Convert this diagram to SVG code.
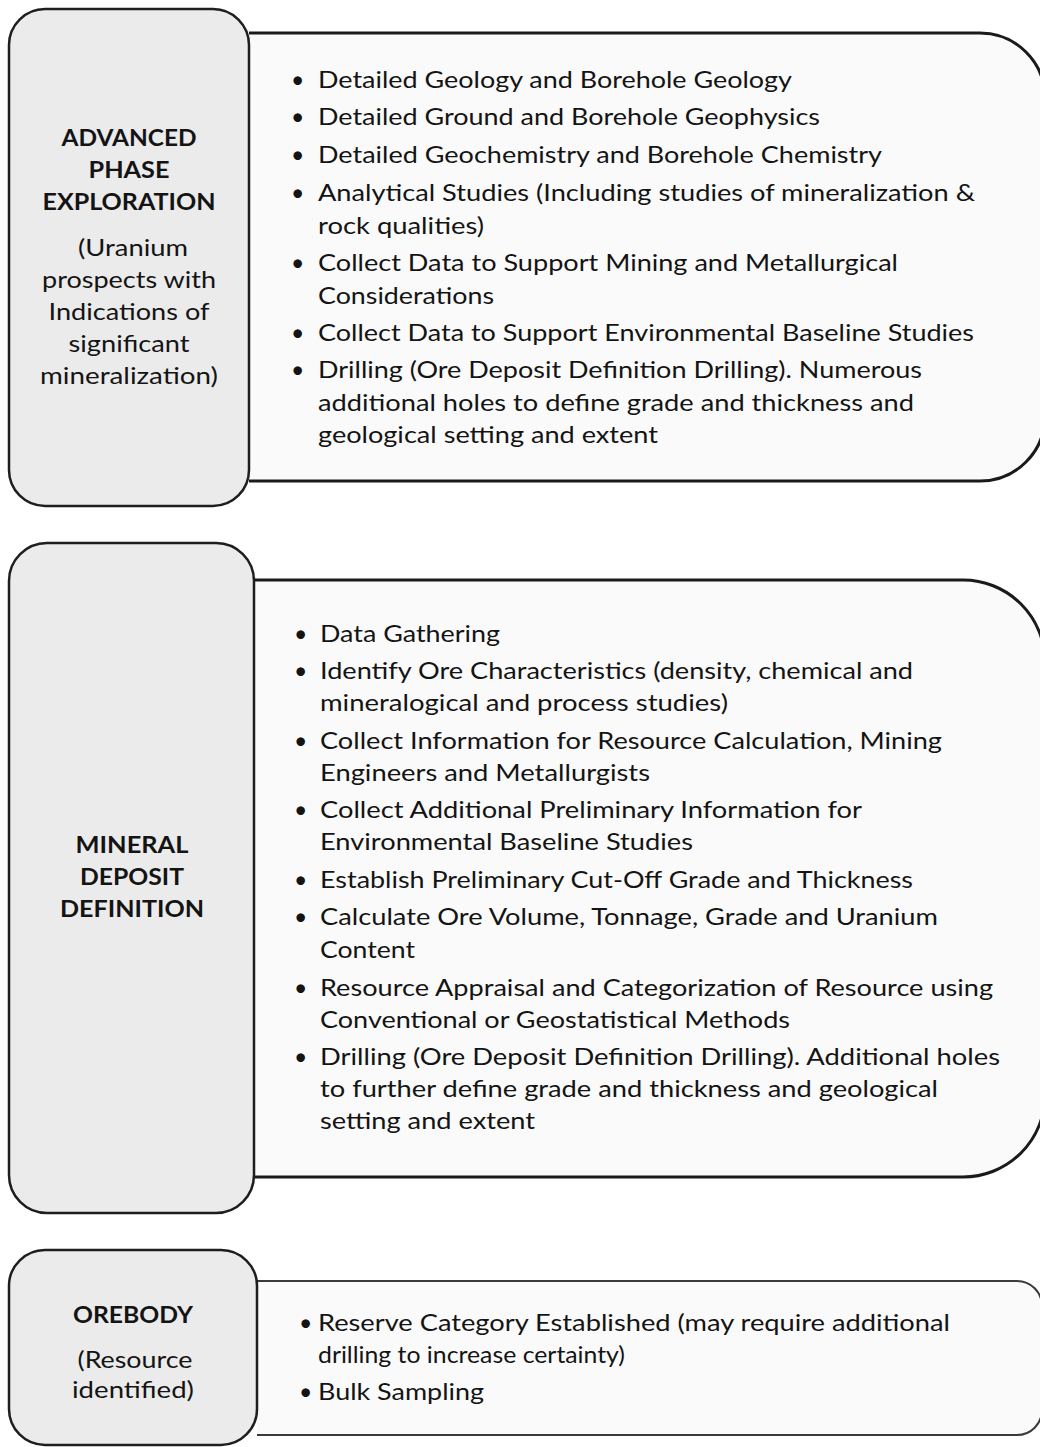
<svg xmlns="http://www.w3.org/2000/svg" width="1040" height="1447" viewBox="0 0 1040 1447">
<style>
.lbox{fill:#ebebeb;stroke:#1e1e1e;stroke-width:2.5}
.rbox{fill:#fafafa;stroke:#1a1a1a;stroke-width:3}
.rbox3{fill:#fafafa;stroke:#3a3a3a;stroke-width:2}
text{font-family:Lato,"Open Sans","Liberation Sans",sans-serif;font-size:23px;fill:#141414}
.h{font-weight:bold;text-anchor:middle}
.c{text-anchor:middle;font-size:24px}
</style>
<rect width="1040" height="1447" fill="#ffffff"/>
<g id="connectors"></g>

<g id="advanced-details">
<path class="rbox" d="M249,33 H980 A65,65 0 0 1 1045,98 V416 A65,65 0 0 1 980,481 H249"/>
<g>
<text x="291" y="88">•</text><text x="318" y="88" textLength="474" lengthAdjust="spacingAndGlyphs">Detailed Geology and Borehole Geology</text>
<text x="291" y="125">•</text><text x="318" y="125" textLength="502" lengthAdjust="spacingAndGlyphs">Detailed Ground and Borehole Geophysics</text>
<text x="291" y="163">•</text><text x="318" y="163" textLength="564" lengthAdjust="spacingAndGlyphs">Detailed Geochemistry and Borehole Chemistry</text>
<text x="291" y="201">•</text><text x="318" y="201" textLength="657" lengthAdjust="spacingAndGlyphs">Analytical Studies (Including studies of mineralization &amp;</text>
<text x="318" y="234" textLength="166" lengthAdjust="spacingAndGlyphs">rock qualities)</text>
<text x="291" y="271">•</text><text x="318" y="271" textLength="580" lengthAdjust="spacingAndGlyphs">Collect Data to Support Mining and Metallurgical</text>
<text x="318" y="304" textLength="176" lengthAdjust="spacingAndGlyphs">Considerations</text>
<text x="291" y="341">•</text><text x="318" y="341" textLength="656" lengthAdjust="spacingAndGlyphs">Collect Data to Support Environmental Baseline Studies</text>
<text x="291" y="378">•</text><text x="318" y="378" textLength="604" lengthAdjust="spacingAndGlyphs">Drilling (Ore Deposit Definition Drilling). Numerous</text>
<text x="318" y="411" textLength="596" lengthAdjust="spacingAndGlyphs">additional holes to define grade and thickness and</text>
<text x="318" y="443" textLength="340" lengthAdjust="spacingAndGlyphs">geological setting and extent</text>
</g>
</g>
<g id="advanced-label">
<rect class="lbox" x="9" y="9" width="240" height="497" rx="36"/>
<text class="h" x="129" y="146" textLength="135" lengthAdjust="spacingAndGlyphs">ADVANCED</text>
<text class="h" x="129" y="178" textLength="81" lengthAdjust="spacingAndGlyphs">PHASE</text>
<text class="h" x="129" y="210" textLength="173" lengthAdjust="spacingAndGlyphs">EXPLORATION</text>
<text class="c" x="133" y="256" textLength="110" lengthAdjust="spacingAndGlyphs">(Uranium</text>
<text class="c" x="129" y="288" textLength="174" lengthAdjust="spacingAndGlyphs">prospects with</text>
<text class="c" x="129" y="320" textLength="161" lengthAdjust="spacingAndGlyphs">Indications of</text>
<text class="c" x="129" y="352" textLength="121" lengthAdjust="spacingAndGlyphs">significant</text>
<text class="c" x="129" y="384" textLength="178" lengthAdjust="spacingAndGlyphs">mineralization)</text>
</g>

<g id="definition-details">
<path class="rbox" d="M254,580 H963 A82,82 0 0 1 1045,662 V1095 A82,82 0 0 1 963,1177 H254"/>
<g>
<text x="294" y="642">•</text><text x="320" y="642" textLength="180" lengthAdjust="spacingAndGlyphs">Data Gathering</text>
<text x="294" y="679">•</text><text x="320" y="679" textLength="593" lengthAdjust="spacingAndGlyphs">Identify Ore Characteristics (density, chemical and</text>
<text x="320" y="711" textLength="408" lengthAdjust="spacingAndGlyphs">mineralogical and process studies)</text>
<text x="294" y="749">•</text><text x="320" y="749" textLength="622" lengthAdjust="spacingAndGlyphs">Collect Information for Resource Calculation, Mining</text>
<text x="320" y="781" textLength="330" lengthAdjust="spacingAndGlyphs">Engineers and Metallurgists</text>
<text x="294" y="818">•</text><text x="320" y="818" textLength="542" lengthAdjust="spacingAndGlyphs">Collect Additional Preliminary Information for</text>
<text x="320" y="850" textLength="373" lengthAdjust="spacingAndGlyphs">Environmental Baseline Studies</text>
<text x="294" y="888">•</text><text x="320" y="888" textLength="593" lengthAdjust="spacingAndGlyphs">Establish Preliminary Cut-Off Grade and Thickness</text>
<text x="294" y="925">•</text><text x="320" y="925" textLength="618" lengthAdjust="spacingAndGlyphs">Calculate Ore Volume, Tonnage, Grade and Uranium</text>
<text x="320" y="958" textLength="95" lengthAdjust="spacingAndGlyphs">Content</text>
<text x="294" y="996">•</text><text x="320" y="996" textLength="673" lengthAdjust="spacingAndGlyphs">Resource Appraisal and Categorization of Resource using</text>
<text x="320" y="1028" textLength="470" lengthAdjust="spacingAndGlyphs">Conventional or Geostatistical Methods</text>
<text x="294" y="1065">•</text><text x="320" y="1065" textLength="680" lengthAdjust="spacingAndGlyphs">Drilling (Ore Deposit Definition Drilling).  Additional holes</text>
<text x="320" y="1097" textLength="618" lengthAdjust="spacingAndGlyphs">to further define grade and thickness and geological</text>
<text x="320" y="1129" textLength="215" lengthAdjust="spacingAndGlyphs">setting and extent</text>
</g>
</g>
<g id="definition-label">
<rect class="lbox" x="9" y="543" width="245" height="670" rx="38"/>
<text class="h" x="132" y="853" textLength="113" lengthAdjust="spacingAndGlyphs">MINERAL</text>
<text class="h" x="132" y="885" textLength="104" lengthAdjust="spacingAndGlyphs">DEPOSIT</text>
<text class="h" x="132" y="917" textLength="144" lengthAdjust="spacingAndGlyphs">DEFINITION</text>
</g>

<g id="orebody-details">
<path class="rbox3" d="M257,1281 H1017 A25,25 0 0 1 1042,1306 V1410 A25,25 0 0 1 1017,1435 H257"/>
<g>
<text x="299" y="1331">•</text><text x="318" y="1331" textLength="632" lengthAdjust="spacingAndGlyphs">Reserve Category Established (may require additional</text>
<text x="318" y="1363" textLength="307" lengthAdjust="spacingAndGlyphs">drilling to increase certainty)</text>
<text x="299" y="1400">•</text><text x="318" y="1400" textLength="166" lengthAdjust="spacingAndGlyphs">Bulk Sampling</text>
</g>
</g>
<g id="orebody-label">
<rect class="lbox" x="9" y="1250" width="248" height="195" rx="36"/>
<text class="h" x="133" y="1323" textLength="120" lengthAdjust="spacingAndGlyphs">OREBODY</text>
<text class="c" x="135" y="1368" textLength="115" lengthAdjust="spacingAndGlyphs">(Resource</text>
<text class="c" x="133" y="1398" textLength="122" lengthAdjust="spacingAndGlyphs">identified)</text>
</g>
</svg>
